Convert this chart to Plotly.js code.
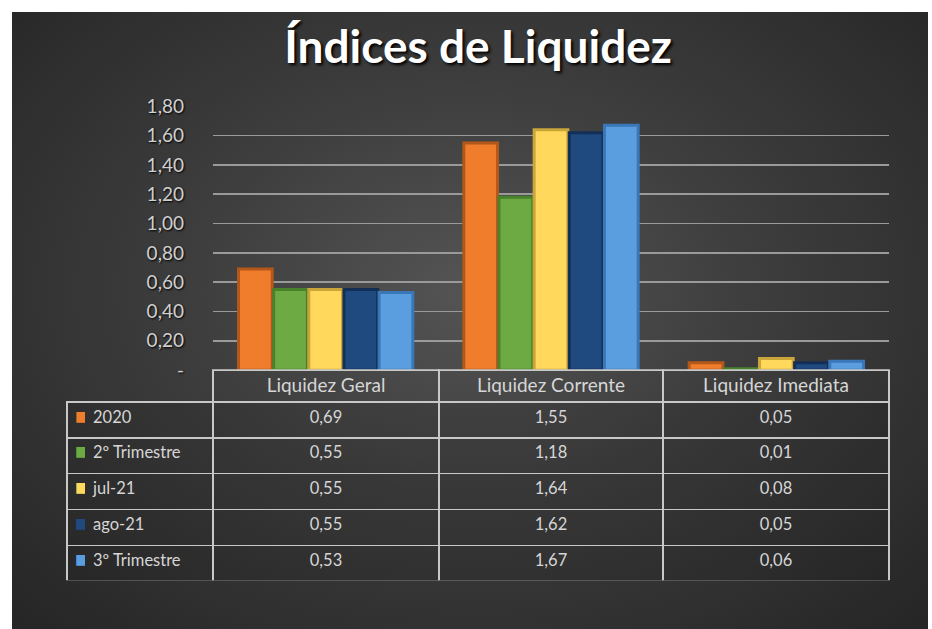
<!DOCTYPE html>
<html>
<head>
<meta charset="utf-8">
<script src="https://cdn.plot.ly/plotly-3.0.1.min.js"></script>
<style>
  html, body { margin: 0; padding: 0; background: #ffffff; }
  #bg { position: absolute; left: 12px; top: 12px; width: 916px; height: 617px;
        background: radial-gradient(ellipse 70% 75% at 50% 45%, #545454 0%, #3d3d3d 45%, #262626 100%); }
  #chart { position: absolute; left: 0; top: 0; width: 932px; height: 629px; }
</style>
</head>
<body>
<div id="bg"></div>
<div id="chart"></div>
<script>
// ---- data ----
const categories = ["Liquidez Geral", "Liquidez Corrente", "Liquidez Imediata"];
const seriesNames = ["2020", "2º Trimestre", "jul-21", "ago-21", "3º Trimestre"];
const s2020 = [0.69, 1.55, 0.05];
const sTri2 = [0.55, 1.18, 0.01];
const sJul21 = [0.55, 1.64, 0.08];
const sAgo21 = [0.55, 1.62, 0.05];
const sTri3 = [0.53, 1.67, 0.06];
const tickVals = [0, 0.2, 0.4, 0.6, 0.8, 1.0, 1.2, 1.4, 1.6, 1.8];
const tickLabels = ["-", "0,20", "0,40", "0,60", "0,80", "1,00", "1,20", "1,40", "1,60", "1,80"];

const seriesValues = [s2020, sTri2, sJul21, sAgo21, sTri3];
const fillColors = ["#EF7D2C", "#6DAA43", "#FFD85C", "#1F4A80", "#5B9EDF"];
const edgeColors = ["#B4571A", "#4A822C", "#C9A53A", "#142F55", "#3A77B8"];

const FONT = "Lato, 'Open Sans', sans-serif";
const txt = "#d6d6d6";

const traces = seriesValues.map((vals, i) => ({
  type: "bar",
  name: seriesNames[i],
  x: categories,
  y: vals,
  marker: { color: fillColors[i], line: { color: edgeColors[i], width: 3 } },
  hoverinfo: "skip",
  showlegend: false
}));

const fmt = v => v.toFixed(2).replace(".", ",");
const valueColumns = categories.map((c, j) => seriesValues.map(s => fmt(s[j])));
const ROW_H = 35.8, HEAD_H = 32;
const TABLE_Y = [0, 0.4439];
const NONE = "rgba(0,0,0,0)";

// data table: bordered grid, first column holds the legend
traces.push({
  type: "table",
  domain: { x: [0, 1], y: TABLE_Y },
  columnwidth: [146, 226, 224, 226],
  header: {
    values: [""].concat(categories),
    height: HEAD_H,
    align: "center",
    fill: { color: NONE },
    line: { color: [NONE, "#c8c8c8", "#c8c8c8", "#c8c8c8"], width: 1.5 },
    font: { family: FONT, size: 19, color: txt }
  },
  cells: {
    values: [seriesNames.map(() => "")].concat(valueColumns),
    height: ROW_H,
    align: "center",
    fill: { color: "rgba(20,20,20,0.12)" },
    line: { color: "#c8c8c8", width: 1.5 },
    font: { family: FONT, size: 16.5, color: txt }
  }
});

// legend key: coloured swatch + series name, laid over the first column
traces.push({
  type: "table",
  domain: { x: [0, 146 / 822], y: TABLE_Y },
  columnwidth: [18, 128],
  header: {
    values: ["", ""],
    height: HEAD_H,
    fill: { color: NONE },
    line: { color: NONE, width: 0 },
    font: { size: 12 }
  },
  cells: {
    values: [seriesNames.map(() => "■"), seriesNames],
    height: ROW_H,
    align: "left",
    fill: { color: NONE },
    line: { color: NONE, width: 0 },
    font: {
      family: ["DejaVu Sans", FONT],
      size: [14, 16.5],
      color: [fillColors, seriesNames.map(() => txt)]
    }
  }
});

const layout = {
  width: 932, height: 629,
  paper_bgcolor: "rgba(0,0,0,0)",
  plot_bgcolor: "rgba(0,0,0,0)",
  margin: { l: 67, r: 43, t: 106, b: 48 },
  title: {
    text: "Índices de Liquidez",
    xref: "container", yref: "container",
    x: 0.513, y: 0.925, xanchor: "center", yanchor: "middle",
    font: { family: FONT, size: 46, color: "#ffffff", weight: "bold", shadow: "2px 2px 3px #000" }
  },
  barmode: "group",
  bargap: 0.22,
  bargroupgap: 0.04,
  xaxis: {
    domain: [0.1776, 1],
    showticklabels: false, showgrid: false, zeroline: false, showline: false, ticks: ""
  },
  yaxis: {
    domain: [0.4439, 1],
    range: [0, 1.802],
    tickvals: tickVals, ticktext: tickLabels,
    showgrid: true, gridcolor: "#9a9a9a", gridwidth: 1.5,
    zeroline: false, showline: false, ticks: "",
    ticklabelstandoff: 28,
    tickfont: { family: FONT, size: 19, color: "#d0d0d0", shadow: "1px 1px 2px #000" }
  },
  showlegend: false
};

Plotly.newPlot("chart", traces, layout, { staticPlot: true, displayModeBar: false });
</script>
</body>
</html>
